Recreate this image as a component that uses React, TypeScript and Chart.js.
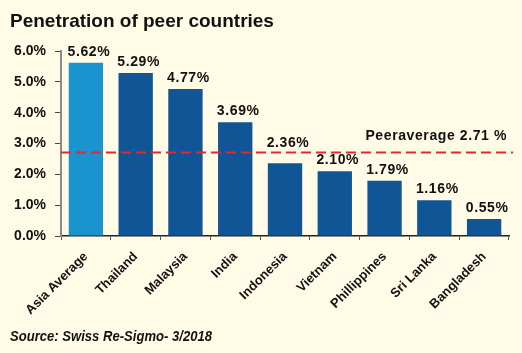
import React, { useEffect, useRef } from "react";
import { Chart, registerables } from "chart.js";

Chart.register(...registerables);

const categories = ["Asia Average", "Thailand", "Malaysia", "India", "Indonesia", "Vietnam", "Phillippines", "Sri Lanka", "Bangladesh"];
const penetration = [5.62, 5.29, 4.77, 3.69, 2.36, 2.1, 1.79, 1.16, 0.55];
const valueLabels = ["5.62%", "5.29%", "4.77%", "3.69%", "2.36%", "2.10%", "1.79%", "1.16%", "0.55%"];
const peerAverage = 2.71;
const peerAverageLabel = "Peeraverage 2.71 %";
const yTicks = [0, 1, 2, 3, 4, 5, 6];
const titleText = "Penetration of peer countries";
const sourceText = "Source: Swiss Re-Sigmo- 3/2018";

const ARIAL = "Arial, 'Liberation Sans', sans-serif";

function drawFitted(ctx: any, text: string, x: number, y: number, width: number) {
  const w = ctx.measureText(text).width;
  const sx = Math.min(1, width / w);
  ctx.save();
  ctx.translate(x, y);
  ctx.scale(sx, 1);
  ctx.fillText(text, 0, 0);
  ctx.restore();
}

const decorPlugin = {
  id: "decor",
  beforeDraw(chart: any) {
    const ctx = chart.ctx;
    ctx.save();
    ctx.fillStyle = "#fffbe6";
    ctx.fillRect(0, 0, chart.width, chart.height);
    ctx.restore();
  },
  afterDatasetsDraw(chart: any) {
    const ctx = chart.ctx;
    const yScale = chart.scales.y;
    const area = chart.chartArea;
    const meta = chart.getDatasetMeta(0);
    const avgY = yScale.getPixelForValue(peerAverage);

    // dashed peer-average line
    ctx.save();
    ctx.strokeStyle = "#e8262c";
    ctx.lineWidth = 2;
    ctx.setLineDash([10, 5]);
    ctx.beginPath();
    ctx.moveTo(area.left, avgY);
    ctx.lineTo(area.right + 4, avgY);
    ctx.stroke();
    ctx.restore();

    // value labels
    ctx.save();
    ctx.fillStyle = "#111";
    ctx.font = `bold 14px ${ARIAL}`;
    (ctx as any).letterSpacing = "0.6px";
    ctx.textAlign = "center";
    ctx.textBaseline = "alphabetic";
    meta.data.forEach((bar: any, i: number) => {
      let base = bar.y - 7;
      const top = base - 10;
      if (base > avgY - 3 && top < avgY) base = avgY - 5;
      ctx.fillText(valueLabels[i], bar.x + 3, base);
    });
    ctx.textAlign = "right";
    ctx.fillText(peerAverageLabel, area.right - 2, avgY - 12);
    ctx.restore();

    // title and source
    ctx.save();
    ctx.fillStyle = "#111";
    ctx.textAlign = "left";
    ctx.textBaseline = "alphabetic";
    ctx.font = `bold 19px ${ARIAL}`;
    drawFitted(ctx, titleText, 10, 27, 275);
    ctx.font = `italic bold 14px ${ARIAL}`;
    drawFitted(ctx, sourceText, 10, 341, 202);
    ctx.restore();
  },
};

export default function App() {
  const ref = useRef<HTMLCanvasElement>(null);
  useEffect(() => {
    document.body.style.margin = "0";
    const chart = new Chart(ref.current!, {
      type: "bar",
      data: {
        labels: categories,
        datasets: [
          {
            data: penetration,
            backgroundColor: penetration.map((_, i) => (i === 0 ? "#1b93cf" : "#105596")),
            barPercentage: 0.69,
            categoryPercentage: 1,
          },
        ],
      },
      options: {
        animation: false,
        responsive: false,
        maintainAspectRatio: false,
        layout: { padding: { top: 51, left: 0, right: 13, bottom: 0 } },
        plugins: { legend: { display: false }, tooltip: { enabled: false }, title: { display: false } },
        scales: {
          x: {
            afterFit(scale: any) {
              scale.height = 117;
            },
            grid: {
              display: true,
              drawOnChartArea: false,
              drawTicks: true,
              tickLength: 4,
              color: "#555",
              offset: true,
            },
            border: { display: true, color: "#222", width: 1.5 },
            ticks: {
              autoSkip: false,
              maxRotation: 45,
              minRotation: 45,
              padding: 9,
              color: "#111",
              font: { family: ARIAL, size: 13, weight: "bold" },
            },
          },
          y: {
            min: 0,
            max: 6,
            afterFit(scale: any) {
              scale.width = 61;
            },
            afterBuildTicks(scale: any) {
              scale.ticks = yTicks.map((v) => ({ value: v }));
            },
            grid: {
              display: true,
              drawOnChartArea: false,
              drawTicks: true,
              tickLength: 6,
              color: "#444",
            },
            border: { display: true, color: "#8a8a8a", width: 2 },
            ticks: {
              padding: 9,
              color: "#111",
              font: { family: ARIAL, size: 14, weight: "bold" },
              callback: (v: any) => Number(v).toFixed(1) + "%",
            },
          },
        },
      },
      plugins: [decorPlugin],
    });
    return () => chart.destroy();
  }, []);
  return (
    <div style={{ position: "absolute", left: 0, top: 0, width: 522, height: 353 }}>
      <canvas ref={ref} width={522} height={353} style={{ display: "block", width: 522, height: 353 }} />
    </div>
  );
}
